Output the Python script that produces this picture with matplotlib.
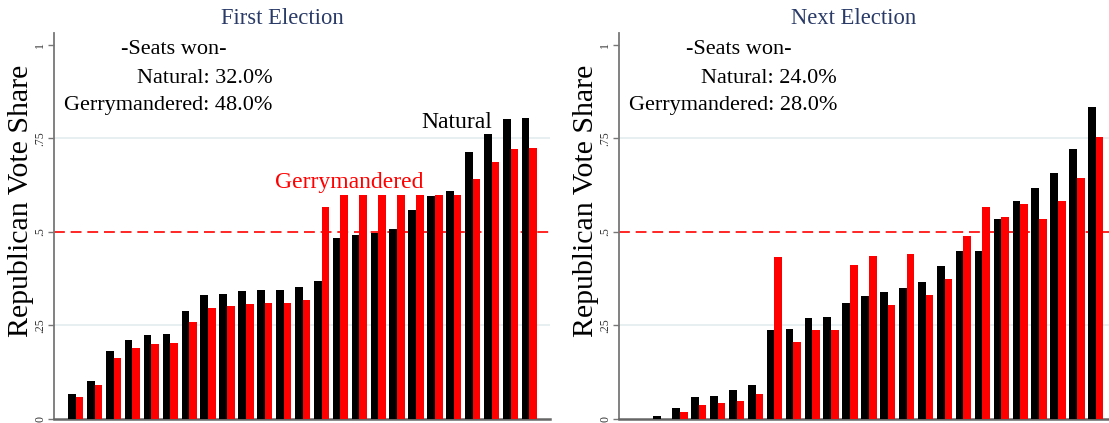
import numpy as np
import matplotlib
matplotlib.use("Agg")
import matplotlib.pyplot as plt

plt.rcParams['font.family'] = ['Liberation Serif', 'DejaVu Serif']

# district vote shares, sorted
districts = np.arange(1, 26)
first_natural = [0.066, 0.102, 0.182, 0.212, 0.225, 0.228, 0.290, 0.332, 0.335, 0.343,
                 0.346, 0.346, 0.354, 0.370, 0.483, 0.493, 0.496, 0.507, 0.558, 0.595,
                 0.609, 0.713, 0.763, 0.802, 0.804]
first_gerry = [0.059, 0.091, 0.164, 0.190, 0.201, 0.204, 0.260, 0.298, 0.303, 0.308,
               0.311, 0.311, 0.319, 0.566, 0.598, 0.598, 0.598, 0.598, 0.598, 0.598,
               0.598, 0.641, 0.687, 0.721, 0.725]
next_natural = [0.0, 0.008, 0.029, 0.059, 0.062, 0.078, 0.091, 0.239, 0.241, 0.271,
                0.273, 0.311, 0.330, 0.340, 0.349, 0.367, 0.410, 0.448, 0.450, 0.534,
                0.584, 0.617, 0.657, 0.721, 0.834]
next_gerry = [0.0, 0.0, 0.019, 0.038, 0.043, 0.048, 0.067, 0.434, 0.206, 0.239,
              0.239, 0.413, 0.437, 0.306, 0.442, 0.332, 0.375, 0.488, 0.568, 0.539,
              0.576, 0.536, 0.584, 0.643, 0.753]

titles = ["First Election", "Next Election"]
seats_natural = ["32.0%", "24.0%"]
seats_gerry = ["48.0%", "28.0%"]
yticks = [0, 0.25, 0.5, 0.75, 1]
ytick_labels = ["0", ".25", ".5", ".75", "1"]

W, H = 1109, 423
fig = plt.figure(figsize=(W / 100, H / 100), dpi=100)

def px_axes(x0, y_top, w, y_bot):
    return fig.add_axes([x0 / W, (H - y_bot) / H, w / W, (y_bot - y_top) / H])

title_col = '#2a3b68'
grid_col = '#e8eff0'

panels = [
    (px_axes(54, 33, 496, 419), first_natural, first_gerry, (-0.15, 26.09), 0.46),
    (px_axes(619, 33, 496, 419), next_natural, next_gerry, (-0.22, 26.02), 0.473),
]

for k, (ax, nat, ger, xl, tx) in enumerate(panels):
    ax.bar(districts - 0.2, nat, width=0.405, color='black', zorder=3)
    ax.bar(districts + 0.205, ger, width=0.405, color='#ff0000', zorder=3)

    for g in [0.25, 0.75]:
        ax.axhline(g, color=grid_col, lw=1.4, zorder=1)
    ax.axhline(0.5, color='#ff0000', lw=1.2, ls=(0, (6.5, 3.5)), zorder=2)

    ax.set_xlim(*xl)
    ax.set_ylim(0, 1.032)
    ax.set_xticks([])
    ax.set_yticks(yticks)
    ax.set_yticklabels(ytick_labels, rotation=90, va='center', fontsize=8.5, color='#333333')
    ax.tick_params(axis='y', length=4, width=1, color='#777777', pad=1.5)

    for s in ['top', 'right']:
        ax.spines[s].set_visible(False)
    ax.spines['left'].set_color('#777777')
    ax.spines['left'].set_linewidth(1.3)
    ax.spines['bottom'].set_color('#666666')
    ax.spines['bottom'].set_linewidth(1.8)

    ax.set_ylabel("Republican Vote Share", fontsize=21.5)
    ax.yaxis.set_label_coords(-0.041, 0.565)

    ax.text(tx, 1.023, titles[k], transform=ax.transAxes, ha='center', va='baseline',
            fontsize=16.3, color=title_col)

    yt = ax.get_yaxis_transform()
    ax.text(0.242, 0.976, "-Seats won-", transform=yt, ha='center',
            va='baseline', fontsize=16)
    ax.text(0.44, 0.898, "Natural: " + seats_natural[k],
            transform=yt, ha='right', va='baseline', fontsize=16)
    ax.text(0.44, 0.826, "Gerrymandered: " + seats_gerry[k],
            transform=yt, ha='right', va='baseline', fontsize=16)

ax0 = panels[0][0]
ax0.text(23.06, 0.777, "Natural", ha='right', va='baseline', fontsize=17, color='black', zorder=4)
ax0.text(19.4, 0.618, "Gerrymandered", ha='right', va='baseline', fontsize=17,
         color='#ff0000', zorder=4)

fig.savefig("out.png", dpi=100)
